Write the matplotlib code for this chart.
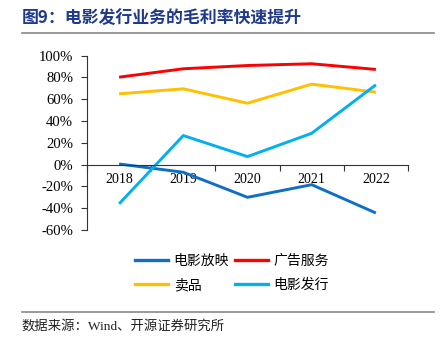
import matplotlib
matplotlib.use("Agg")
import matplotlib.pyplot as plt
from matplotlib.lines import Line2D

years = ["2018", "2019", "2020", "2021", "2022"]
screening = [0.6, -7.0, -30.0, -18.4, -44.4]
advertising = [80.3, 88.0, 91.0, 92.6, 87.4]
merchandise = [65.0, 69.6, 56.4, 73.9, 66.5]
distribution = [-36.0, 26.7, 7.4, 28.8, 73.3]
series_names = ["电影放映", "广告服务", "卖品", "电影发行"]
yticks = [-60, -40, -20, 0, 20, 40, 60, 80, 100]

colors = ["#0F6FC6", "#FF0000", "#FFC000", "#00B0F0"]
cjk = ["Noto Sans CJK SC", "DejaVu Sans"]
plt.rcParams["font.family"] = ["Liberation Serif", "Noto Sans CJK SC", "DejaVu Serif"]

W, H = 444, 344
fig = plt.figure(figsize=(W / 100, H / 100), dpi=100)

def fx(px):
    return px / W

def fy(py):
    return 1 - py / H

ax = fig.add_axes([fx(87), fy(230), fx(408 - 87), fy(55.7) - fy(230)])
x = list(range(len(years)))
for vals, c in zip([screening, advertising, merchandise, distribution], colors):
    ax.plot(x, vals, color=c, lw=2.1, solid_capstyle="butt")

ax.set_xlim(-0.5, len(years) - 0.5)
ax.set_ylim(-60, 100)
ax.set_yticks(yticks)
ax.set_yticklabels([f"{v}%" for v in yticks], fontsize=10.6)
ax.set_xticks(x)
ax.set_xticklabels(years, fontsize=11)
ax.set_xticks([i - 0.5 for i in range(len(years) + 1)], minor=True)
ax.tick_params(axis="x", which="major", length=0, pad=6)
ax.tick_params(axis="x", which="minor", length=4, direction="out", color="#333333", width=0.8)
ax.tick_params(axis="y", length=4, direction="out", color="#333333", width=0.8, pad=6)
for s in ["top", "right"]:
    ax.spines[s].set_visible(False)
ax.spines["bottom"].set_position(("data", 0))
for s in ["bottom", "left"]:
    ax.spines[s].set_color("#333333")
    ax.spines[s].set_linewidth(0.8)

# title
fig.text(fx(22), fy(18), "图9：电影发行业务的毛利率快速提升", family=cjk, fontsize=12.2,
         fontweight="bold", color="#1F3A8A", va="center", ha="left")
fig.add_artist(Line2D([fx(22), fx(434)], [fy(33), fy(33)], color="#888888", lw=1.2))
fig.add_artist(Line2D([fx(22), fx(434)], [fy(312), fy(312)], color="#888888", lw=1.2))
fig.text(fx(22), fy(326), "数据来源：Wind、开源证券研究所", fontsize=9.6,
         color="#222222", va="center", ha="left")

order = [0, 2, 1, 3]
handles = [Line2D([], [], color=colors[i], lw=2.4) for i in order]
labels = [series_names[i] for i in order]
leg = fig.legend(handles, labels, loc="center", bbox_to_anchor=(fx(232), fy(273)),
                 ncol=2, frameon=False, prop={"family": cjk, "size": 10},
                 handlelength=2.4, handletextpad=0.4, columnspacing=0.4, labelspacing=0.75)

fig.savefig("out.png", dpi=100)
